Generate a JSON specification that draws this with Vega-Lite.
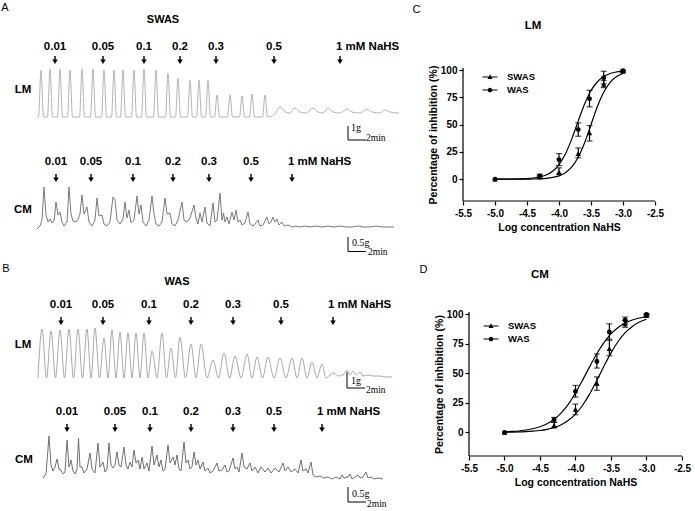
{
"$schema": "https://vega.github.io/schema/vega-lite/v6.json",
"width": 695,
"height": 511,
"autosize": {"type": "none"},
"padding": 0,
"background": "white",
"data": {"values": [{}]},
"config": {
 "view": {"stroke": null},
 "font": "Liberation Sans",
 "axis": {"domain": false, "tickColor": "black", "labelColor": "black", "titleColor": "black", "labelFont": "Liberation Sans", "titleFont": "Liberation Sans", "labelFontWeight": "bold", "titleFontWeight": "bold", "labelFontSize": 10, "titleFontSize": 10.5, "grid": false, "tickSize": 4, "tickWidth": 1.2, "labelPadding": 3, "titlePadding": 4, "labelFlush": false},
 "axisY": {"titlePadding": 2, "labelPadding": 2},
 "legend": {"orient": "none", "title": null, "labelFontSize": 9.5, "labelFontWeight": "bold", "labelFont": "Liberation Sans", "labelColor": "black", "symbolSize": 169, "labelOffset": 9.5, "rowPadding": 0, "padding": 0}
},
"datasets": {
 "aLM": [{"t":37,"v":0},{"t":38.5,"v":0},{"t":41,"v":47},{"t":43.5,"v":0},{"t":47.5,"v":0},{"t":50,"v":48},{"t":52.5,"v":0},{"t":57.5,"v":0},{"t":60,"v":48},{"t":62.5,"v":0},{"t":67.5,"v":0},{"t":70,"v":47},{"t":72.5,"v":0},{"t":79.5,"v":0},{"t":82,"v":48},{"t":84.5,"v":0},{"t":90.5,"v":0},{"t":93,"v":48},{"t":95.5,"v":0},{"t":101.5,"v":0},{"t":104,"v":47},{"t":106.5,"v":0},{"t":111.5,"v":0},{"t":114,"v":47},{"t":116.5,"v":0},{"t":120.5,"v":0},{"t":123,"v":47},{"t":125.5,"v":0},{"t":131.5,"v":0},{"t":134,"v":47},{"t":136.5,"v":0},{"t":141.5,"v":0},{"t":144,"v":48},{"t":146.5,"v":0},{"t":153.5,"v":0},{"t":156,"v":47},{"t":158.5,"v":0},{"t":165.5,"v":0},{"t":168,"v":44},{"t":170.5,"v":0},{"t":175.5,"v":0},{"t":178,"v":39},{"t":180.5,"v":0},{"t":187.5,"v":0},{"t":190,"v":37},{"t":192.5,"v":0},{"t":196.5,"v":0},{"t":199,"v":37},{"t":201.5,"v":0},{"t":205.5,"v":0},{"t":208,"v":37},{"t":210.5,"v":0},{"t":214.5,"v":0},{"t":217,"v":22},{"t":219.5,"v":0},{"t":227.5,"v":0},{"t":230,"v":22},{"t":232.5,"v":0},{"t":239.5,"v":0},{"t":242,"v":21},{"t":244.5,"v":0},{"t":249.5,"v":0},{"t":252,"v":23},{"t":254.5,"v":0},{"t":262.5,"v":0},{"t":265,"v":22},{"t":267.5,"v":0},{"t":274,"v":2},{"t":280,"v":10},{"t":285,"v":5},{"t":290,"v":4},{"t":295,"v":9},{"t":300,"v":5},{"t":306,"v":4},{"t":313,"v":9},{"t":318,"v":5},{"t":323,"v":4},{"t":328,"v":9},{"t":333,"v":5},{"t":340,"v":4},{"t":347,"v":8},{"t":352,"v":5},{"t":360,"v":4},{"t":367,"v":8},{"t":372,"v":5},{"t":380,"v":4},{"t":385,"v":7},{"t":390,"v":5},{"t":399,"v":4}],
 "aCM": [{"t":37,"v":-1},{"t":40,"v":2},{"t":42,"v":8},{"t":44,"v":41},{"t":46,"v":13},{"t":48,"v":6},{"t":50,"v":9},{"t":52,"v":5},{"t":54,"v":7},{"t":56,"v":26},{"t":58,"v":13},{"t":60,"v":16},{"t":62,"v":6},{"t":64,"v":2},{"t":67,"v":6},{"t":69,"v":41},{"t":71,"v":14},{"t":73,"v":7},{"t":76,"v":6},{"t":78,"v":9},{"t":80,"v":14},{"t":82,"v":33},{"t":84,"v":14},{"t":87,"v":21},{"t":89,"v":6},{"t":92,"v":2},{"t":95,"v":8},{"t":97,"v":30},{"t":99,"v":12},{"t":102,"v":13},{"t":104,"v":4},{"t":107,"v":2},{"t":110,"v":6},{"t":113,"v":31},{"t":115,"v":28},{"t":117,"v":8},{"t":120,"v":4},{"t":123,"v":9},{"t":125,"v":26},{"t":127,"v":10},{"t":129,"v":18},{"t":131,"v":5},{"t":134,"v":8},{"t":137,"v":32},{"t":139,"v":14},{"t":141,"v":23},{"t":143,"v":6},{"t":146,"v":2},{"t":149,"v":8},{"t":152,"v":32},{"t":154,"v":14},{"t":156,"v":4},{"t":159,"v":2},{"t":162,"v":6},{"t":165,"v":30},{"t":167,"v":14},{"t":170,"v":15},{"t":172,"v":4},{"t":175,"v":2},{"t":178,"v":8},{"t":182,"v":26},{"t":184,"v":8},{"t":187,"v":6},{"t":190,"v":10},{"t":194,"v":23},{"t":196,"v":10},{"t":198,"v":4},{"t":200,"v":15},{"t":202,"v":6},{"t":205,"v":21},{"t":207,"v":5},{"t":210,"v":2},{"t":213,"v":25},{"t":215,"v":6},{"t":217,"v":8},{"t":220,"v":35},{"t":222,"v":8},{"t":223.5,"v":15},{"t":225,"v":6},{"t":227,"v":11},{"t":229,"v":4},{"t":232,"v":16},{"t":234,"v":8},{"t":236,"v":18},{"t":238,"v":6},{"t":240,"v":8},{"t":242,"v":3},{"t":245,"v":5},{"t":248,"v":16},{"t":250,"v":4},{"t":253,"v":2},{"t":255,"v":4},{"t":258,"v":8},{"t":260,"v":2},{"t":263,"v":3},{"t":267,"v":11},{"t":269,"v":4},{"t":271,"v":6},{"t":273,"v":11},{"t":275,"v":6},{"t":277,"v":9},{"t":279,"v":3},{"t":282,"v":6},{"t":284,"v":2},{"t":288,"v":3},{"t":292,"v":1},{"t":296,"v":2},{"t":300,"v":1},{"t":305,"v":2},{"t":310,"v":1},{"t":316,"v":2},{"t":322,"v":1},{"t":328,"v":2},{"t":334,"v":1},{"t":340,"v":2},{"t":346,"v":1},{"t":352,"v":1},{"t":358,"v":2},{"t":364,"v":1},{"t":370,"v":1},{"t":376,"v":2},{"t":382,"v":1},{"t":388,"v":1},{"t":394,"v":1}],
 "bLM": [{"t":38,"v":0},{"t":42,"v":49},{"t":46.5,"v":0},{"t":51,"v":47},{"t":55.5,"v":0},{"t":60,"v":48},{"t":64.5,"v":0},{"t":69,"v":49},{"t":73.5,"v":0},{"t":78,"v":49},{"t":82.5,"v":0},{"t":87,"v":49},{"t":91,"v":0},{"t":95,"v":50},{"t":99.5,"v":0},{"t":104,"v":40},{"t":108,"v":0},{"t":112,"v":48},{"t":116,"v":0},{"t":120,"v":46},{"t":124,"v":0},{"t":128,"v":45},{"t":132,"v":0},{"t":136,"v":45},{"t":140,"v":0},{"t":144,"v":45},{"t":148,"v":0},{"t":152,"v":27},{"t":157,"v":0},{"t":162,"v":45},{"t":166.5,"v":0},{"t":171,"v":30},{"t":175.5,"v":0},{"t":180,"v":41},{"t":185.5,"v":0},{"t":191,"v":34},{"t":196,"v":0},{"t":201,"v":34},{"t":207,"v":0},{"t":213,"v":18},{"t":218.5,"v":0},{"t":224,"v":25},{"t":229.5,"v":0},{"t":235,"v":22},{"t":241,"v":0},{"t":247,"v":24},{"t":252,"v":0},{"t":257,"v":21},{"t":262.5,"v":0},{"t":268,"v":21},{"t":274,"v":0},{"t":280,"v":20},{"t":286,"v":0},{"t":292,"v":20},{"t":297,"v":0},{"t":302,"v":20},{"t":307,"v":0},{"t":312,"v":16},{"t":317,"v":0},{"t":322,"v":14},{"t":326,"v":0},{"t":330,"v":3},{"t":334,"v":5},{"t":338,"v":2},{"t":343,"v":3},{"t":347,"v":8},{"t":350,"v":3},{"t":353,"v":7},{"t":356,"v":3},{"t":360,"v":6},{"t":363,"v":2},{"t":368,"v":3},{"t":373,"v":2},{"t":380,"v":2},{"t":386,"v":1},{"t":392,"v":1}],
 "bCM": [{"t":43,"v":-1},{"t":46,"v":3},{"t":49,"v":41},{"t":51,"v":12},{"t":53,"v":6},{"t":55,"v":10},{"t":57,"v":18},{"t":59,"v":8},{"t":61,"v":7},{"t":63,"v":3},{"t":65,"v":5},{"t":67,"v":37},{"t":69,"v":10},{"t":71,"v":17},{"t":73,"v":6},{"t":75,"v":3},{"t":77,"v":8},{"t":78.5,"v":39},{"t":80,"v":10},{"t":82,"v":10},{"t":84,"v":4},{"t":87,"v":8},{"t":90,"v":24},{"t":92,"v":8},{"t":95,"v":4},{"t":98,"v":34},{"t":100,"v":10},{"t":103,"v":15},{"t":105,"v":5},{"t":107,"v":8},{"t":109,"v":34},{"t":111,"v":12},{"t":113,"v":9},{"t":115,"v":12},{"t":117,"v":25},{"t":119,"v":12},{"t":121,"v":10},{"t":124,"v":30},{"t":126,"v":12},{"t":128,"v":8},{"t":130,"v":15},{"t":132,"v":10},{"t":134,"v":27},{"t":136,"v":14},{"t":138,"v":17},{"t":140,"v":8},{"t":142,"v":20},{"t":144,"v":8},{"t":147,"v":14},{"t":149,"v":6},{"t":152,"v":31},{"t":154,"v":12},{"t":157,"v":22},{"t":159,"v":10},{"t":161,"v":17},{"t":163,"v":6},{"t":165,"v":8},{"t":168,"v":32},{"t":170,"v":14},{"t":173,"v":20},{"t":175,"v":12},{"t":177,"v":22},{"t":179,"v":8},{"t":181,"v":6},{"t":184,"v":35},{"t":186,"v":14},{"t":188,"v":17},{"t":190,"v":8},{"t":192,"v":10},{"t":194,"v":25},{"t":196,"v":12},{"t":198,"v":17},{"t":200,"v":8},{"t":203,"v":15},{"t":205,"v":6},{"t":208,"v":9},{"t":210,"v":4},{"t":213,"v":6},{"t":217,"v":14},{"t":219,"v":6},{"t":222,"v":7},{"t":225,"v":12},{"t":227,"v":5},{"t":229,"v":6},{"t":233,"v":19},{"t":235,"v":8},{"t":237,"v":10},{"t":239,"v":5},{"t":242,"v":24},{"t":244,"v":10},{"t":247,"v":8},{"t":250,"v":14},{"t":252,"v":6},{"t":255,"v":10},{"t":258,"v":4},{"t":261,"v":10},{"t":265,"v":5},{"t":268,"v":9},{"t":271,"v":4},{"t":275,"v":9},{"t":279,"v":5},{"t":283,"v":14},{"t":285,"v":6},{"t":288,"v":10},{"t":291,"v":5},{"t":295,"v":8},{"t":298,"v":4},{"t":301,"v":17},{"t":303,"v":6},{"t":306,"v":8},{"t":308,"v":4},{"t":311,"v":15},{"t":313,"v":2},{"t":316,"v":0},{"t":320,"v":1},{"t":324,"v":-1},{"t":328,"v":0},{"t":332,"v":-2},{"t":336,"v":0},{"t":340,"v":-2},{"t":342,"v":2},{"t":344,"v":-1},{"t":348,"v":0},{"t":350,"v":3},{"t":352,"v":-2},{"t":355,"v":0},{"t":358,"v":2},{"t":360,"v":-1},{"t":363,"v":0},{"t":366,"v":5},{"t":368,"v":-1},{"t":371,"v":0},{"t":374,"v":-2},{"t":378,"v":-1},{"t":383,"v":-2}],
 "dA_LM": [{"t":55,"dose":"0.01"},{"t":103,"dose":"0.05"},{"t":144,"dose":"0.1"},{"t":180,"dose":"0.2"},{"t":216,"dose":"0.3"},{"t":274,"dose":"0.5"},{"t":340,"dose":"1 mM NaHS"}],
 "dA_CM": [{"t":56,"dose":"0.01"},{"t":91,"dose":"0.05"},{"t":133,"dose":"0.1"},{"t":173,"dose":"0.2"},{"t":209,"dose":"0.3"},{"t":251,"dose":"0.5"},{"t":292,"dose":"1 mM NaHS"}],
 "dB_LM": [{"t":61,"dose":"0.01"},{"t":103,"dose":"0.05"},{"t":149,"dose":"0.1"},{"t":191,"dose":"0.2"},{"t":233,"dose":"0.3"},{"t":281,"dose":"0.5"},{"t":333,"dose":"1 mM NaHS"}],
 "dB_CM": [{"t":67,"dose":"0.01"},{"t":115,"dose":"0.05"},{"t":150,"dose":"0.1"},{"t":191,"dose":"0.2"},{"t":233,"dose":"0.3"},{"t":274,"dose":"0.5"},{"t":322,"dose":"1 mM NaHS"}],
 "cCurve": [{"x":-5,"y":0,"group":"SWAS"},{"x":-4.8,"y":0,"group":"SWAS"},{"x":-4.6,"y":0.05,"group":"SWAS"},{"x":-4.5,"y":0.1,"group":"SWAS"},{"x":-4.4,"y":0.2,"group":"SWAS"},{"x":-4.3,"y":0.4,"group":"SWAS"},{"x":-4.2,"y":0.8,"group":"SWAS"},{"x":-4.1,"y":1.6,"group":"SWAS"},{"x":-4.0,"y":3.1,"group":"SWAS"},{"x":-3.9,"y":5.9,"group":"SWAS"},{"x":-3.8,"y":11.2,"group":"SWAS"},{"x":-3.7,"y":20.1,"group":"SWAS"},{"x":-3.6,"y":33.4,"group":"SWAS"},{"x":-3.5,"y":50,"group":"SWAS"},{"x":-3.4,"y":66.6,"group":"SWAS"},{"x":-3.3,"y":79.9,"group":"SWAS"},{"x":-3.2,"y":88.8,"group":"SWAS"},{"x":-3.1,"y":94.1,"group":"SWAS"},{"x":-3.0,"y":96.9,"group":"SWAS"},
  {"x":-5,"y":0,"group":"WAS"},{"x":-4.8,"y":0.1,"group":"WAS"},{"x":-4.6,"y":0.3,"group":"WAS"},{"x":-4.5,"y":0.55,"group":"WAS"},{"x":-4.4,"y":1.1,"group":"WAS"},{"x":-4.3,"y":2.0,"group":"WAS"},{"x":-4.2,"y":3.9,"group":"WAS"},{"x":-4.1,"y":7.3,"group":"WAS"},{"x":-4.0,"y":13.4,"group":"WAS"},{"x":-3.9,"y":23.1,"group":"WAS"},{"x":-3.8,"y":37.0,"group":"WAS"},{"x":-3.7,"y":53.3,"group":"WAS"},{"x":-3.6,"y":69.0,"group":"WAS"},{"x":-3.5,"y":81.3,"group":"WAS"},{"x":-3.4,"y":89.4,"group":"WAS"},{"x":-3.3,"y":94.3,"group":"WAS"},{"x":-3.2,"y":97.0,"group":"WAS"},{"x":-3.1,"y":98.4,"group":"WAS"},{"x":-3.0,"y":99.2,"group":"WAS"}],
 "cPts": [{"x":-5,"y":0,"lo":0,"hi":0,"group":"SWAS"},{"x":-4.301,"y":2,"lo":1,"hi":3,"group":"SWAS"},{"x":-4,"y":6.5,"lo":4.3,"hi":10.4,"group":"SWAS"},{"x":-3.699,"y":23.5,"lo":19.6,"hi":28.7,"group":"SWAS"},{"x":-3.523,"y":42.5,"lo":35,"hi":49.2,"group":"SWAS"},{"x":-3.301,"y":87,"lo":84,"hi":90.5,"group":"SWAS"},{"x":-3,"y":99,"lo":98,"hi":99.5,"group":"SWAS"},
  {"x":-5,"y":0,"lo":0,"hi":0,"group":"WAS"},{"x":-4.301,"y":3,"lo":2,"hi":4.5,"group":"WAS"},{"x":-4,"y":18,"lo":12.5,"hi":23.5,"group":"WAS"},{"x":-3.699,"y":45.5,"lo":39.4,"hi":51.7,"group":"WAS"},{"x":-3.523,"y":73.7,"lo":66.4,"hi":81.5,"group":"WAS"},{"x":-3.301,"y":93,"lo":87.5,"hi":99,"group":"WAS"},{"x":-3,"y":99.5,"lo":99,"hi":100,"group":"WAS"}],
 "dCurve": [{"x":-5,"y":0.15,"group":"SWAS"},{"x":-4.9,"y":0.24,"group":"SWAS"},{"x":-4.8,"y":0.38,"group":"SWAS"},{"x":-4.7,"y":0.62,"group":"SWAS"},{"x":-4.6,"y":1.0,"group":"SWAS"},{"x":-4.5,"y":1.6,"group":"SWAS"},{"x":-4.4,"y":2.6,"group":"SWAS"},{"x":-4.3,"y":4.1,"group":"SWAS"},{"x":-4.2,"y":6.5,"group":"SWAS"},{"x":-4.1,"y":10.2,"group":"SWAS"},{"x":-4.0,"y":15.5,"group":"SWAS"},{"x":-3.9,"y":23.0,"group":"SWAS"},{"x":-3.8,"y":32.6,"group":"SWAS"},{"x":-3.7,"y":44.0,"group":"SWAS"},{"x":-3.6,"y":56.0,"group":"SWAS"},{"x":-3.5,"y":67.4,"group":"SWAS"},{"x":-3.4,"y":77.0,"group":"SWAS"},{"x":-3.3,"y":84.5,"group":"SWAS"},{"x":-3.2,"y":89.8,"group":"SWAS"},{"x":-3.1,"y":93.5,"group":"SWAS"},{"x":-3.0,"y":95.9,"group":"SWAS"},
  {"x":-5,"y":0.5,"group":"WAS"},{"x":-4.9,"y":0.8,"group":"WAS"},{"x":-4.8,"y":1.2,"group":"WAS"},{"x":-4.7,"y":2.0,"group":"WAS"},{"x":-4.6,"y":3.1,"group":"WAS"},{"x":-4.5,"y":4.8,"group":"WAS"},{"x":-4.4,"y":7.4,"group":"WAS"},{"x":-4.3,"y":11.2,"group":"WAS"},{"x":-4.2,"y":16.6,"group":"WAS"},{"x":-4.1,"y":24.0,"group":"WAS"},{"x":-4.0,"y":33.4,"group":"WAS"},{"x":-3.9,"y":44.3,"group":"WAS"},{"x":-3.8,"y":55.7,"group":"WAS"},{"x":-3.7,"y":66.6,"group":"WAS"},{"x":-3.6,"y":76.0,"group":"WAS"},{"x":-3.5,"y":83.4,"group":"WAS"},{"x":-3.4,"y":88.8,"group":"WAS"},{"x":-3.3,"y":92.6,"group":"WAS"},{"x":-3.2,"y":95.2,"group":"WAS"},{"x":-3.1,"y":96.9,"group":"WAS"},{"x":-3.0,"y":98.0,"group":"WAS"}],
 "dPts": [{"x":-5,"y":0,"lo":0,"hi":0,"group":"SWAS"},{"x":-4.301,"y":5.9,"lo":3.7,"hi":8.5,"group":"SWAS"},{"x":-4,"y":19.5,"lo":15,"hi":24,"group":"SWAS"},{"x":-3.699,"y":41.5,"lo":35.6,"hi":47,"group":"SWAS"},{"x":-3.523,"y":71,"lo":65,"hi":79,"group":"SWAS"},{"x":-3.301,"y":92,"lo":89,"hi":95,"group":"SWAS"},{"x":-3,"y":99,"lo":98,"hi":100,"group":"SWAS"},
  {"x":-5,"y":0,"lo":0,"hi":0,"group":"WAS"},{"x":-4.301,"y":10.7,"lo":8.5,"hi":12.7,"group":"WAS"},{"x":-4,"y":34.7,"lo":29.9,"hi":39.8,"group":"WAS"},{"x":-3.699,"y":60,"lo":54.5,"hi":66.4,"group":"WAS"},{"x":-3.523,"y":85,"lo":78,"hi":92,"group":"WAS"},{"x":-3.301,"y":95,"lo":92,"hi":97.7,"group":"WAS"},{"x":-3,"y":100,"lo":99,"hi":100.5,"group":"WAS"}]
},
"resolve": {"scale": {"x": "independent", "y": "independent", "shape": "independent"}, "axis": {"x": "independent", "y": "independent"}, "legend": {"shape": "independent"}},
"layer": [
 {"layer": [
   {"data": {"name": "aLM"}, "mark": {"type": "line", "color": "#b4b4b4", "strokeWidth": 1, "interpolate": "monotone"},
    "encoding": {"x": {"field": "t", "type": "quantitative", "scale": {"domain": [0, 695], "nice": false, "zero": false}, "axis": null},
                 "y": {"field": "v", "type": "quantitative", "scale": {"domain": [-394, 117], "nice": false, "zero": false}, "axis": null}}},
   {"data": {"name": "dA_LM"}, "transform": [{"filter": "datum.dose !== '1 mM NaHS'"}], "mark": {"type": "text", "fontWeight": "bold", "fontSize": 11.5},
    "encoding": {"x": {"field": "t", "type": "quantitative", "axis": null}, "y": {"datum": 70, "axis": null}, "text": {"field": "dose"}}},
   {"data": {"name": "dA_LM"}, "transform": [{"filter": "datum.dose === '1 mM NaHS'"}], "mark": {"type": "text", "fontWeight": "bold", "fontSize": 11.5, "align": "left", "dx": -4},
    "encoding": {"x": {"field": "t", "type": "quantitative", "axis": null}, "y": {"datum": 70, "axis": null}, "text": {"field": "dose"}}},
   {"data": {"name": "dA_LM"}, "mark": {"type": "point", "shape": "M-0.18,-1L0.18,-1L0.18,-0.15L0.7,-0.15L0,1L-0.7,-0.15L-0.18,-0.15Z", "filled": true, "color": "black", "size": 64, "opacity": 1},
    "encoding": {"x": {"field": "t", "type": "quantitative", "axis": null}, "y": {"datum": 57, "axis": null}}},
   {"mark": {"type": "text", "fontSize": 11}, "encoding": {"x": {"datum": 5, "axis": null}, "y": {"datum": 109, "axis": null}, "text": {"value": "A"}}},
   {"mark": {"type": "text", "fontSize": 11, "fontWeight": "bold"}, "encoding": {"x": {"datum": 163, "axis": null}, "y": {"datum": 97, "axis": null}, "text": {"value": "SWAS"}}},
   {"mark": {"type": "text", "fontSize": 11.5, "fontWeight": "bold"}, "encoding": {"x": {"datum": 23, "axis": null}, "y": {"datum": 27, "axis": null}, "text": {"value": "LM"}}},
   {"mark": {"type": "rule", "color": "black", "strokeWidth": 1}, "encoding": {"x": {"datum": 348, "axis": null}, "y": {"datum": -9, "axis": null}, "y2": {"datum": -23}}},
   {"mark": {"type": "rule", "color": "black", "strokeWidth": 1}, "encoding": {"x": {"datum": 348, "axis": null}, "x2": {"datum": 366}, "y": {"datum": -23, "axis": null}}},
   {"mark": {"type": "text", "font": "Liberation Serif", "fontSize": 10, "align": "left", "baseline": "alphabetic"}, "encoding": {"x": {"datum": 351, "axis": null}, "y": {"datum": -14, "axis": null}, "text": {"value": "1g"}}},
   {"mark": {"type": "text", "font": "Liberation Serif", "fontSize": 9.5, "align": "left", "baseline": "alphabetic"}, "encoding": {"x": {"datum": 366, "axis": null}, "y": {"datum": -24, "axis": null}, "text": {"value": "2min"}}}
 ]},
 {"layer": [
   {"data": {"name": "aCM"}, "mark": {"type": "line", "color": "#7a7a7a", "strokeWidth": 1},
    "encoding": {"x": {"field": "t", "type": "quantitative", "scale": {"domain": [0, 695], "nice": false, "zero": false}, "axis": null},
                 "y": {"field": "v", "type": "quantitative", "scale": {"domain": [-283, 228], "nice": false, "zero": false}, "axis": null}}},
   {"data": {"name": "dA_CM"}, "transform": [{"filter": "datum.dose !== '1 mM NaHS'"}], "mark": {"type": "text", "fontWeight": "bold", "fontSize": 11.5},
    "encoding": {"x": {"field": "t", "type": "quantitative", "axis": null}, "y": {"datum": 66, "axis": null}, "text": {"field": "dose"}}},
   {"data": {"name": "dA_CM"}, "transform": [{"filter": "datum.dose === '1 mM NaHS'"}], "mark": {"type": "text", "fontWeight": "bold", "fontSize": 11.5, "align": "left", "dx": -4},
    "encoding": {"x": {"field": "t", "type": "quantitative", "axis": null}, "y": {"datum": 66, "axis": null}, "text": {"field": "dose"}}},
   {"data": {"name": "dA_CM"}, "mark": {"type": "point", "shape": "M-0.18,-1L0.18,-1L0.18,-0.15L0.7,-0.15L0,1L-0.7,-0.15L-0.18,-0.15Z", "filled": true, "color": "black", "size": 64, "opacity": 1},
    "encoding": {"x": {"field": "t", "type": "quantitative", "axis": null}, "y": {"datum": 50, "axis": null}}},
   {"mark": {"type": "text", "fontSize": 11.5, "fontWeight": "bold"}, "encoding": {"x": {"datum": 23, "axis": null}, "y": {"datum": 18, "axis": null}, "text": {"value": "CM"}}},
   {"mark": {"type": "rule", "color": "black", "strokeWidth": 1}, "encoding": {"x": {"datum": 348, "axis": null}, "y": {"datum": -9, "axis": null}, "y2": {"datum": -23.5}}},
   {"mark": {"type": "rule", "color": "black", "strokeWidth": 1}, "encoding": {"x": {"datum": 348, "axis": null}, "x2": {"datum": 366}, "y": {"datum": -23.5, "axis": null}}},
   {"mark": {"type": "text", "font": "Liberation Serif", "fontSize": 10, "align": "left", "baseline": "alphabetic"}, "encoding": {"x": {"datum": 352, "axis": null}, "y": {"datum": -18, "axis": null}, "text": {"value": "0.5g"}}},
   {"mark": {"type": "text", "font": "Liberation Serif", "fontSize": 9.5, "align": "left", "baseline": "alphabetic"}, "encoding": {"x": {"datum": 368, "axis": null}, "y": {"datum": -27, "axis": null}, "text": {"value": "2min"}}}
 ]},
 {"layer": [
   {"data": {"name": "bLM"}, "mark": {"type": "line", "color": "#a8a8a8", "strokeWidth": 1, "interpolate": "monotone"},
    "encoding": {"x": {"field": "t", "type": "quantitative", "scale": {"domain": [0, 695], "nice": false, "zero": false}, "axis": null},
                 "y": {"field": "v", "type": "quantitative", "scale": {"domain": [-133, 378], "nice": false, "zero": false}, "axis": null}}},
   {"data": {"name": "dB_LM"}, "transform": [{"filter": "datum.dose !== '1 mM NaHS'"}], "mark": {"type": "text", "fontWeight": "bold", "fontSize": 11.5},
    "encoding": {"x": {"field": "t", "type": "quantitative", "axis": null}, "y": {"datum": 73, "axis": null}, "text": {"field": "dose"}}},
   {"data": {"name": "dB_LM"}, "transform": [{"filter": "datum.dose === '1 mM NaHS'"}], "mark": {"type": "text", "fontWeight": "bold", "fontSize": 11.5, "align": "left", "dx": -5},
    "encoding": {"x": {"field": "t", "type": "quantitative", "axis": null}, "y": {"datum": 73, "axis": null}, "text": {"field": "dose"}}},
   {"data": {"name": "dB_LM"}, "mark": {"type": "point", "shape": "M-0.18,-1L0.18,-1L0.18,-0.15L0.7,-0.15L0,1L-0.7,-0.15L-0.18,-0.15Z", "filled": true, "color": "black", "size": 64, "opacity": 1},
    "encoding": {"x": {"field": "t", "type": "quantitative", "axis": null}, "y": {"datum": 57, "axis": null}}},
   {"mark": {"type": "text", "fontSize": 11}, "encoding": {"x": {"datum": 6, "axis": null}, "y": {"datum": 109, "axis": null}, "text": {"value": "B"}}},
   {"mark": {"type": "text", "fontSize": 11, "fontWeight": "bold"}, "encoding": {"x": {"datum": 177, "axis": null}, "y": {"datum": 96, "axis": null}, "text": {"value": "WAS"}}},
   {"mark": {"type": "text", "fontSize": 11.5, "fontWeight": "bold"}, "encoding": {"x": {"datum": 23, "axis": null}, "y": {"datum": 33, "axis": null}, "text": {"value": "LM"}}},
   {"mark": {"type": "rule", "color": "black", "strokeWidth": 1}, "encoding": {"x": {"datum": 347, "axis": null}, "y": {"datum": 6, "axis": null}, "y2": {"datum": -10}}},
   {"mark": {"type": "rule", "color": "black", "strokeWidth": 1}, "encoding": {"x": {"datum": 347, "axis": null}, "x2": {"datum": 365}, "y": {"datum": -10, "axis": null}}},
   {"mark": {"type": "text", "font": "Liberation Serif", "fontSize": 10, "align": "left", "baseline": "alphabetic"}, "encoding": {"x": {"datum": 351, "axis": null}, "y": {"datum": -6, "axis": null}, "text": {"value": "1g"}}},
   {"mark": {"type": "text", "font": "Liberation Serif", "fontSize": 9.5, "align": "left", "baseline": "alphabetic"}, "encoding": {"x": {"datum": 366, "axis": null}, "y": {"datum": -15, "axis": null}, "text": {"value": "2min"}}}
 ]},
 {"layer": [
   {"data": {"name": "bCM"}, "mark": {"type": "line", "color": "#707070", "strokeWidth": 1},
    "encoding": {"x": {"field": "t", "type": "quantitative", "scale": {"domain": [0, 695], "nice": false, "zero": false}, "axis": null},
                 "y": {"field": "v", "type": "quantitative", "scale": {"domain": [-34, 477], "nice": false, "zero": false}, "axis": null}}},
   {"data": {"name": "dB_CM"}, "transform": [{"filter": "datum.dose !== '1 mM NaHS'"}], "mark": {"type": "text", "fontWeight": "bold", "fontSize": 11.5},
    "encoding": {"x": {"field": "t", "type": "quantitative", "axis": null}, "y": {"datum": 65, "axis": null}, "text": {"field": "dose"}}},
   {"data": {"name": "dB_CM"}, "transform": [{"filter": "datum.dose === '1 mM NaHS'"}], "mark": {"type": "text", "fontWeight": "bold", "fontSize": 11.5, "align": "left", "dx": -5},
    "encoding": {"x": {"field": "t", "type": "quantitative", "axis": null}, "y": {"datum": 65, "axis": null}, "text": {"field": "dose"}}},
   {"data": {"name": "dB_CM"}, "mark": {"type": "point", "shape": "M-0.18,-1L0.18,-1L0.18,-0.15L0.7,-0.15L0,1L-0.7,-0.15L-0.18,-0.15Z", "filled": true, "color": "black", "size": 64, "opacity": 1},
    "encoding": {"x": {"field": "t", "type": "quantitative", "axis": null}, "y": {"datum": 49, "axis": null}}},
   {"mark": {"type": "text", "fontSize": 11.5, "fontWeight": "bold"}, "encoding": {"x": {"datum": 24, "axis": null}, "y": {"datum": 17, "axis": null}, "text": {"value": "CM"}}},
   {"mark": {"type": "rule", "color": "black", "strokeWidth": 1}, "encoding": {"x": {"datum": 348, "axis": null}, "y": {"datum": -10, "axis": null}, "y2": {"datum": -25}}},
   {"mark": {"type": "rule", "color": "black", "strokeWidth": 1}, "encoding": {"x": {"datum": 348, "axis": null}, "x2": {"datum": 366}, "y": {"datum": -25, "axis": null}}},
   {"mark": {"type": "text", "font": "Liberation Serif", "fontSize": 10, "align": "left", "baseline": "alphabetic"}, "encoding": {"x": {"datum": 352, "axis": null}, "y": {"datum": -20, "axis": null}, "text": {"value": "0.5g"}}},
   {"mark": {"type": "text", "font": "Liberation Serif", "fontSize": 9.5, "align": "left", "baseline": "alphabetic"}, "encoding": {"x": {"datum": 367, "axis": null}, "y": {"datum": -30, "axis": null}, "text": {"value": "2min"}}}
 ]},
 {"layer": [
   {"data": {"name": "cCurve"}, "mark": {"type": "line", "color": "black", "strokeWidth": 1.2, "interpolate": "monotone"},
    "encoding": {"x": {"field": "x", "type": "quantitative", "title": "Log concentration NaHS", "scale": {"domain": [-12.734375, -1.875], "nice": false, "zero": false}, "axis": {"orient": "bottom", "offset": -310, "values": [-5.5, -5, -4.5, -4, -3.5, -3, -2.5], "titleX": 559, "labelExpr": "replace(format(datum.value, '.1f'), '\u2212', '-')"}},
                 "y": {"field": "y", "type": "quantitative", "title": "Percentage of inhibition (%)", "scale": {"domain": [-304.36, 164.376], "nice": false, "zero": false}, "axis": {"orient": "left", "offset": -463, "values": [0, 25, 50, 75, 100], "titleY": 134.5}},
                 "detail": {"field": "group"}}},
   {"mark": {"type": "rule", "color": "black", "strokeWidth": 1.2}, "encoding": {"x": {"datum": -5.5, "title": "Log concentration NaHS"}, "y": {"datum": -20, "title": "Percentage of inhibition (%)"}, "y2": {"datum": 102}}},
   {"mark": {"type": "rule", "color": "black", "strokeWidth": 1.2}, "encoding": {"x": {"datum": -5.5, "title": "Log concentration NaHS"}, "x2": {"datum": -2.5}, "y": {"datum": -20, "title": "Percentage of inhibition (%)"}}},
   {"data": {"name": "cPts"}, "transform": [{"filter": "datum.hi > datum.lo"}], "mark": {"type": "errorbar", "ticks": {"size": 6}, "color": "black", "thickness": 1.2},
    "encoding": {"x": {"field": "x", "type": "quantitative", "title": "Log concentration NaHS"}, "y": {"field": "lo", "type": "quantitative", "title": "Percentage of inhibition (%)"}, "y2": {"field": "hi"}}},
   {"data": {"name": "cPts"}, "transform": [{"filter": "datum.group === 'SWAS'"}], "mark": {"type": "point", "shape": "triangle-up", "filled": true, "color": "black", "size": 30, "opacity": 1},
    "encoding": {"x": {"field": "x", "type": "quantitative", "title": "Log concentration NaHS"}, "y": {"field": "y", "type": "quantitative", "title": "Percentage of inhibition (%)"}}},
   {"data": {"name": "cPts"}, "transform": [{"filter": "datum.group === 'WAS'"}], "mark": {"type": "point", "shape": "circle", "filled": true, "color": "black", "size": 24, "opacity": 1},
    "encoding": {"x": {"field": "x", "type": "quantitative", "title": "Log concentration NaHS"}, "y": {"field": "y", "type": "quantitative", "title": "Percentage of inhibition (%)"}}},
   {"data": {"name": "cPts"}, "transform": [{"filter": "datum.x < -100"}], "mark": {"type": "point", "filled": true, "color": "black", "opacity": 1},
    "encoding": {"x": {"field": "x", "type": "quantitative", "title": "Log concentration NaHS"}, "y": {"field": "y", "type": "quantitative", "title": "Percentage of inhibition (%)"},
                 "shape": {"field": "group", "type": "nominal", "scale": {"domain": ["SWAS", "WAS"], "range": ["M-1.15,-0.09H1.15V0.09H-1.15ZM0,-0.42L0.38,0.3H-0.38Z", "M-1.15,-0.09H1.15V0.09H-1.15ZM0.36,0A0.36,0.36 0 1,1 -0.36,0A0.36,0.36 0 1,1 0.36,0Z"]},
                           "legend": {"legendX": 482.5, "legendY": 69.5}}}},
   {"mark": {"type": "text", "fontSize": 11.5, "fontWeight": "bold"}, "encoding": {"x": {"datum": -4.406}, "y": {"datum": 140.5}, "text": {"value": "LM"}}},
   {"mark": {"type": "text", "fontSize": 11}, "encoding": {"x": {"datum": -6.227}, "y": {"datum": 155.2}, "text": {"value": "C"}}}
 ]},
 {"layer": [
   {"data": {"name": "dCurve"}, "mark": {"type": "line", "color": "black", "strokeWidth": 1.2, "interpolate": "monotone"},
    "encoding": {"x": {"field": "x", "type": "quantitative", "title": "Log concentration NaHS", "scale": {"domain": [-12.1056, -2.3169], "nice": false, "zero": false}, "axis": {"orient": "bottom", "offset": -55, "values": [-5.5, -5, -4.5, -4, -3.5, -3, -2.5], "titleX": 575.5, "labelExpr": "replace(format(datum.value, '.1f'), '\u2212', '-')"}},
                 "y": {"field": "y", "type": "quantitative", "title": "Percentage of inhibition (%)", "scale": {"domain": [-66.6, 366.33], "nice": false, "zero": false}, "axis": {"orient": "left", "offset": -469, "values": [0, 25, 50, 75, 100], "titleY": 384}},
                 "detail": {"field": "group"}}},
   {"mark": {"type": "rule", "color": "black", "strokeWidth": 1.2}, "encoding": {"x": {"datum": -5.5, "title": "Log concentration NaHS"}, "y": {"datum": -20, "title": "Percentage of inhibition (%)"}, "y2": {"datum": 102}}},
   {"mark": {"type": "rule", "color": "black", "strokeWidth": 1.2}, "encoding": {"x": {"datum": -5.5, "title": "Log concentration NaHS"}, "x2": {"datum": -2.5}, "y": {"datum": -20, "title": "Percentage of inhibition (%)"}}},
   {"data": {"name": "dPts"}, "transform": [{"filter": "datum.hi > datum.lo"}], "mark": {"type": "errorbar", "ticks": {"size": 6}, "color": "black", "thickness": 1.2},
    "encoding": {"x": {"field": "x", "type": "quantitative", "title": "Log concentration NaHS"}, "y": {"field": "lo", "type": "quantitative", "title": "Percentage of inhibition (%)"}, "y2": {"field": "hi"}}},
   {"data": {"name": "dPts"}, "transform": [{"filter": "datum.group === 'SWAS'"}], "mark": {"type": "point", "shape": "triangle-up", "filled": true, "color": "black", "size": 30, "opacity": 1},
    "encoding": {"x": {"field": "x", "type": "quantitative", "title": "Log concentration NaHS"}, "y": {"field": "y", "type": "quantitative", "title": "Percentage of inhibition (%)"}}},
   {"data": {"name": "dPts"}, "transform": [{"filter": "datum.group === 'WAS'"}], "mark": {"type": "point", "shape": "circle", "filled": true, "color": "black", "size": 24, "opacity": 1},
    "encoding": {"x": {"field": "x", "type": "quantitative", "title": "Log concentration NaHS"}, "y": {"field": "y", "type": "quantitative", "title": "Percentage of inhibition (%)"}}},
   {"data": {"name": "dPts"}, "transform": [{"filter": "datum.x < -100"}], "mark": {"type": "point", "filled": true, "color": "black", "opacity": 1},
    "encoding": {"x": {"field": "x", "type": "quantitative", "title": "Log concentration NaHS"}, "y": {"field": "y", "type": "quantitative", "title": "Percentage of inhibition (%)"},
                 "shape": {"field": "group", "type": "nominal", "scale": {"domain": ["SWAS", "WAS"], "range": ["M-1.15,-0.09H1.15V0.09H-1.15ZM0,-0.42L0.38,0.3H-0.38Z", "M-1.15,-0.09H1.15V0.09H-1.15ZM0.36,0A0.36,0.36 0 1,1 -0.36,0A0.36,0.36 0 1,1 0.36,0Z"]},
                           "legend": {"legendX": 483.5, "legendY": 318.5}}}},
   {"mark": {"type": "text", "fontSize": 11.5, "fontWeight": "bold"}, "encoding": {"x": {"datum": -4.5}, "y": {"datum": 133.3}, "text": {"value": "CM"}}},
   {"mark": {"type": "text", "fontSize": 11}, "encoding": {"x": {"datum": -6.141}, "y": {"datum": 137.6}, "text": {"value": "D"}}}
 ]}
]
}
